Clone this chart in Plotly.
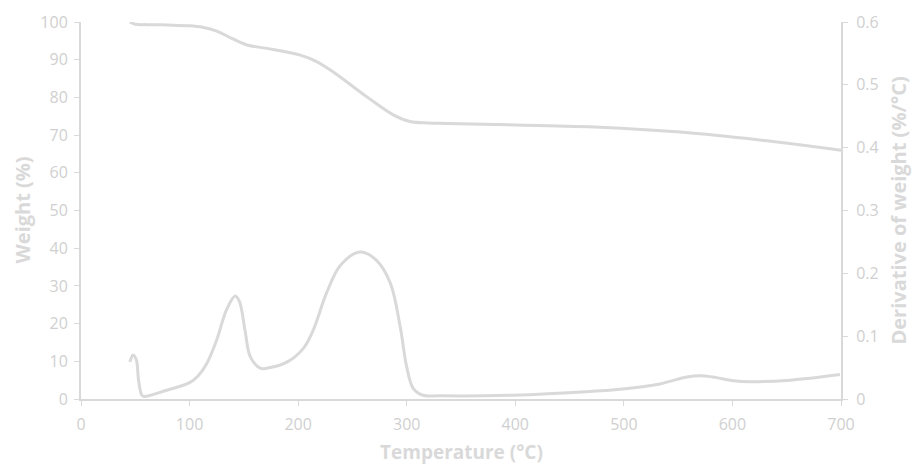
import plotly.graph_objects as go

# Weight (%) vs temperature
temp_w = [45, 50, 60, 80, 100, 112, 125, 140, 153, 171, 202, 217, 232, 263, 288, 303, 320, 337, 400, 478, 552, 625, 700]
weight = [100, 99.4, 99.3, 99.2, 99.0, 98.6, 97.6, 95.5, 93.9, 93.0, 91.2, 89.5, 86.8, 80.2, 75.3, 73.6, 73.2, 73.1, 72.7, 72.1, 70.8, 68.7, 66.0]

# Derivative of weight (%/°C) vs temperature
temp_d = [45, 48, 51, 53, 56, 58, 79, 100, 108, 116, 125, 134, 142, 146, 151, 156, 165, 171, 190, 205, 214, 226, 239, 257, 272, 285, 294, 300, 306, 315, 331, 398, 469, 499, 533, 558, 570, 582, 601, 616, 653, 699]
deriv = [0.059, 0.070, 0.062, 0.030, 0.006, 0.004, 0.014, 0.026, 0.037, 0.057, 0.094, 0.142, 0.164, 0.155, 0.110, 0.067, 0.049, 0.049, 0.059, 0.081, 0.110, 0.168, 0.213, 0.234, 0.221, 0.184, 0.115, 0.051, 0.017, 0.006, 0.005, 0.006, 0.012, 0.016, 0.024, 0.035, 0.037, 0.035, 0.029, 0.0275, 0.030, 0.039]

x_ticks = [0, 100, 200, 300, 400, 500, 600, 700]
y_ticks = [0, 10, 20, 30, 40, 50, 60, 70, 80, 90, 100]
y2_ticks = [0, 0.1, 0.2, 0.3, 0.4, 0.5, 0.6]
y2_labels = ["0", "0.1", "0.2", "0.3", "0.4", "0.5", "0.6"]

x_title = "Temperature (°C)"
y_title = "Weight (%)"
y2_title = "Derivative of weight (%/°C)"

line_col = "#D9D9D9"
axis_col = "#D9D9D9"
tick_font = dict(family="Open Sans, sans-serif", size=16, color="#D0D0D0")
title_font = dict(family="Open Sans, sans-serif", size=20, color="#D9D9D9")

fig = go.Figure()
fig.add_trace(go.Scatter(x=temp_w, y=weight, mode="lines",
                         line=dict(color=line_col, width=3, shape="spline", smoothing=1.0),
                         showlegend=False, hoverinfo="skip"))
fig.add_trace(go.Scatter(x=temp_d, y=deriv, mode="lines", yaxis="y2",
                         line=dict(color=line_col, width=3, shape="spline", smoothing=1.0),
                         showlegend=False, hoverinfo="skip"))

common = dict(showgrid=False, zeroline=False, automargin=False, showline=True,
              linecolor=axis_col, linewidth=2, ticks="outside", ticklen=5,
              tickcolor=axis_col, tickfont=tick_font)

fig.update_layout(
    width=912, height=464,
    margin=dict(l=81, r=71, t=22, b=65),
    paper_bgcolor="white", plot_bgcolor="white",
    xaxis=dict(range=[0, 700], tickvals=x_ticks, ticklabelstandoff=5, **common),
    yaxis=dict(range=[0, 100], tickvals=y_ticks, ticklabelstandoff=3, **common),
    yaxis2=dict(range=[0, 0.6], tickvals=y2_ticks, ticktext=y2_labels, overlaying="y",
                side="right", ticklabelstandoff=5, **common),
    annotations=[
        dict(text="<b>" + x_title + "</b>", xref="paper", yref="paper", x=0.5, y=0,
             xanchor="center", yanchor="middle", yshift=-53, showarrow=False, font=dict(title_font, size=19)),
        dict(text="<b>" + y_title + "</b>", xref="paper", yref="paper", x=0, y=0.5,
             xanchor="center", yanchor="middle", xshift=-59, textangle=-90, showarrow=False, font=title_font),
        dict(text="<b>" + y2_title + "</b>", xref="paper", yref="paper", x=1, y=0.5,
             xanchor="center", yanchor="middle", xshift=57, textangle=-90, showarrow=False, font=title_font),
    ],
)

fig.write_html("out.html", config={"displayModeBar": False},
               post_script="document.body.style.margin='0';document.body.style.overflow='hidden';")
